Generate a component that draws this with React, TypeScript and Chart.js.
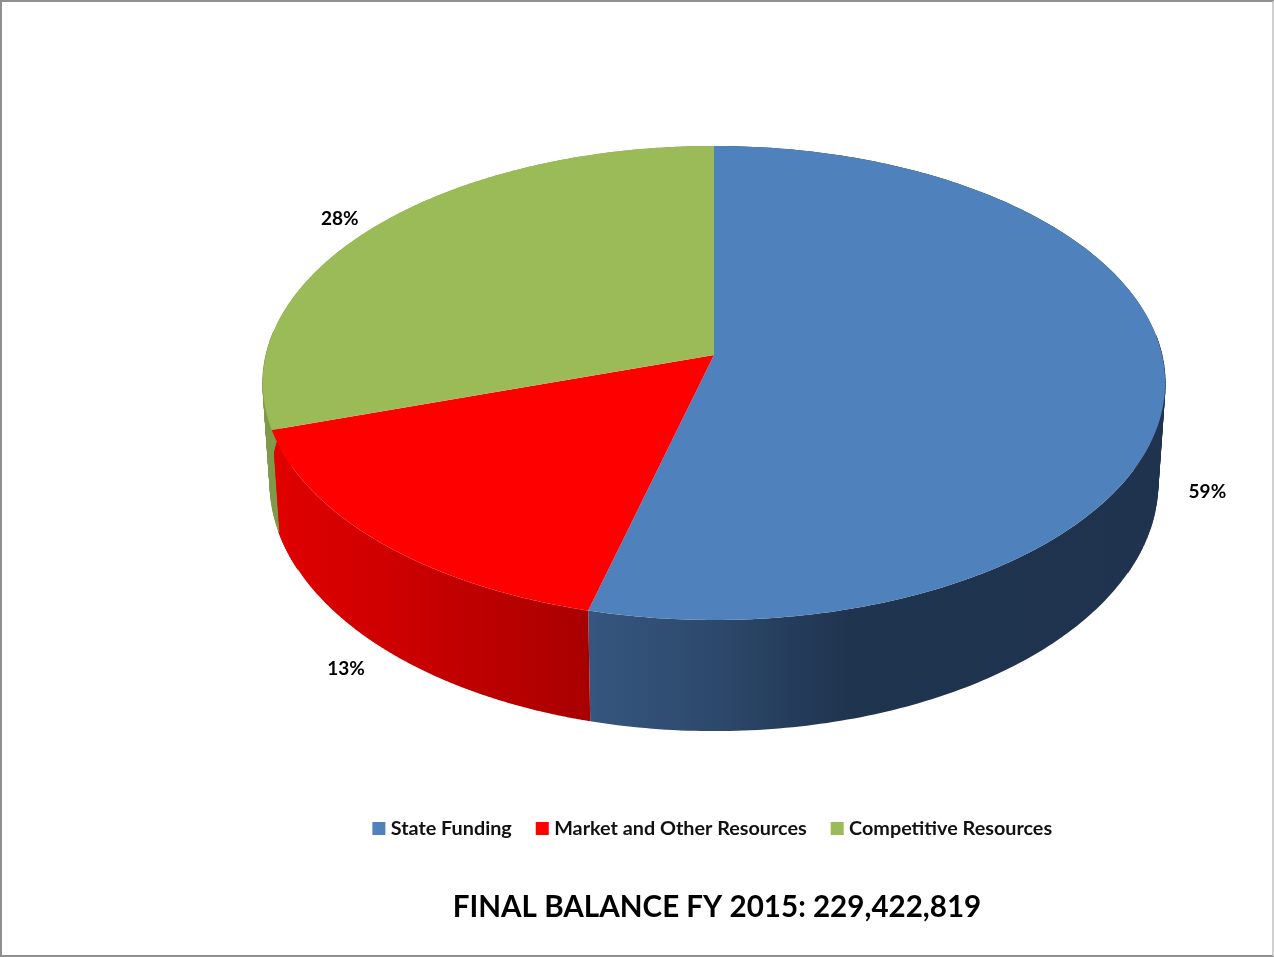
import React, { useEffect, useRef } from "react";
import { Chart, registerables } from "chart.js";

Chart.register(...registerables);

const categories = ["State Funding", "Market and Other Resources", "Competitive Resources"];
// Shares as the slices are actually drawn in the picture (they differ from the printed labels).
const drawnShares = [54, 16, 30];
// Percentages as printed beside the slices.
const printedPercents = [59, 13, 28];
const topColors = ["#4f81bd", "#ff0000", "#9bbb59"];
const wallStops = [
  [[590, "#36567f"], [720, "#2c486b"], [850, "#1f344f"], [1160, "#1f334f"]],
  [[278, "#e00000"], [400, "#cc0000"], [590, "#a80000"]],
  [[263, "#7f9b4a"], [278, "#7f9b4a"]],
];
const labelNudges = [[1, -1], [1, 4], [-7, 3]];
const titleText = "FINAL BALANCE FY 2015: 229,422,819";

// Perspective view of the pie disc.
const view = { cx: 714, cy: 355, ax: 448, ay: 233.7, tilt: -0.118, xShrink: 0.984, yScale: 1.047, yShift: 82 };

function project(angle: number, r = 1) {
  const u = r * Math.cos(angle);
  const v = r * Math.sin(angle);
  const d = 1 + view.tilt * v;
  return { x: view.cx + (view.ax * u) / d, y: view.cy + (view.ay * v) / d };
}
function lower(p: { x: number; y: number }) {
  return { x: view.cx + (p.x - view.cx) * view.xShrink, y: p.y * view.yScale + view.yShift };
}
function angles(start: number, end: number) {
  const out = [];
  const n = 240;
  for (let i = 0; i <= n; i++) out.push(start + ((end - start) * i) / n);
  return out;
}

const pie3d = {
  id: "pie3d",
  afterLayout(chart: any) {
    chart.legend.left -= 2.5;
    chart.legend.right -= 2.5;
  },
  beforeDatasetDraw(chart: any, args: any) {
    const ctx = chart.ctx;
    const arcs = args.meta.data;
    ctx.save();
    arcs.forEach((arc: any, i: number) => {
      const as = angles(arc.startAngle, arc.endAngle);
      const pts = as.map((a) => project(a));
      const stops = wallStops[i] as any[];
      const g = ctx.createLinearGradient(stops[0][0], 0, stops[stops.length - 1][0], 0);
      const span = stops[stops.length - 1][0] - stops[0][0];
      stops.forEach((s) => g.addColorStop((s[0] - stops[0][0]) / span, s[1]));
      ctx.fillStyle = g;
      ctx.strokeStyle = g;
      ctx.lineWidth = 0.6;
      ctx.beginPath();
      pts.forEach((p, k) => (k ? ctx.lineTo(p.x, p.y) : ctx.moveTo(p.x, p.y)));
      [...pts].reverse().forEach((p) => {
        const q = lower(p);
        ctx.lineTo(q.x, q.y);
      });
      ctx.closePath();
      ctx.fill();
      // Close the silhouette at the left and right extremes of the disc, where the wall colour is flat.
      for (let k = 0; k + 1 < pts.length; k++) {
        const s = Math.sin(as[k]);
        if (s > 0.45 || s < -0.1) continue;
        const a = pts[k];
        const b = pts[k + 1];
        const c = lower(b);
        const d = lower(a);
        ctx.beginPath();
        ctx.moveTo(a.x, a.y);
        ctx.lineTo(b.x, b.y);
        ctx.lineTo(c.x, c.y);
        ctx.lineTo(d.x, d.y);
        ctx.closePath();
        ctx.fill();
        ctx.stroke();
      }
    });
    arcs.forEach((arc: any, i: number) => {
      const pts = angles(arc.startAngle, arc.endAngle).map((a) => project(a));
      ctx.beginPath();
      ctx.moveTo(view.cx, view.cy);
      pts.forEach((p) => ctx.lineTo(p.x, p.y));
      ctx.closePath();
      ctx.fillStyle = topColors[i];
      ctx.fill();
    });
    ctx.fillStyle = "#000";
    ctx.font = "bold 19px Lato";
    ctx.textAlign = "center";
    ctx.textBaseline = "middle";
    arcs.forEach((arc: any, i: number) => {
      const mid = (arc.startAngle + arc.endAngle) / 2;
      const p = project(mid, 1.09);
      const drop = Math.sin(mid) > 0 ? 105 : 0;
      ctx.fillText(printedPercents[i] + "%", p.x + labelNudges[i][0], p.y + drop + labelNudges[i][1]);
    });
    ctx.restore();
    return false;
  },
};

export default function App() {
  const ref = useRef<HTMLCanvasElement>(null);
  useEffect(() => {
    document.body.style.margin = "0";
    document.body.style.overflow = "hidden";
    const chart = new Chart(ref.current!, {
      type: "pie",
      data: {
        labels: categories,
        datasets: [{ data: drawnShares, backgroundColor: topColors, borderWidth: 0 }],
      },
      options: {
        responsive: false,
        animation: false,
        layout: { padding: { left: 160, bottom: 32 } },
        plugins: {
          tooltip: { enabled: false },
          legend: {
            position: "bottom",
            labels: {
              boxWidth: 4,
              boxHeight: 4,
              padding: 28.5,
              color: "#111",
              font: { family: "Lato", size: 19.8, weight: "bold" },
              generateLabels() {
                return categories.map((text, i) => ({
                  text,
                  fillStyle: topColors[i],
                  strokeStyle: topColors[i],
                  lineWidth: 9,
                  lineJoin: "miter",
                  hidden: false,
                  index: i,
                  fontColor: "#111",
                }));
              },
            },
          },
          title: {
            display: true,
            text: titleText,
            position: "bottom",
            color: "#000",
            padding: { top: 41, bottom: 0 },
            font: { family: "Lato", size: 29.6, weight: "bold" },
          },
        },
      } as any,
      plugins: [pie3d],
    });
    return () => chart.destroy();
  }, []);
  return (
    <>
      <canvas ref={ref} width={1274} height={957} style={{ position: "absolute", left: 0, top: 0, display: "block" }} />
      <div
        style={{
          position: "absolute",
          left: 0,
          top: 0,
          width: 1274,
          height: 957,
          boxSizing: "border-box",
          borderTop: "2px solid #8f8f8f",
          borderLeft: "2px solid #8f8f8f",
          borderBottom: "2px solid #8f8f8f",
          borderRight: "2px solid #d0d0d0",
          pointerEvents: "none",
        }}
      />
    </>
  );
}
